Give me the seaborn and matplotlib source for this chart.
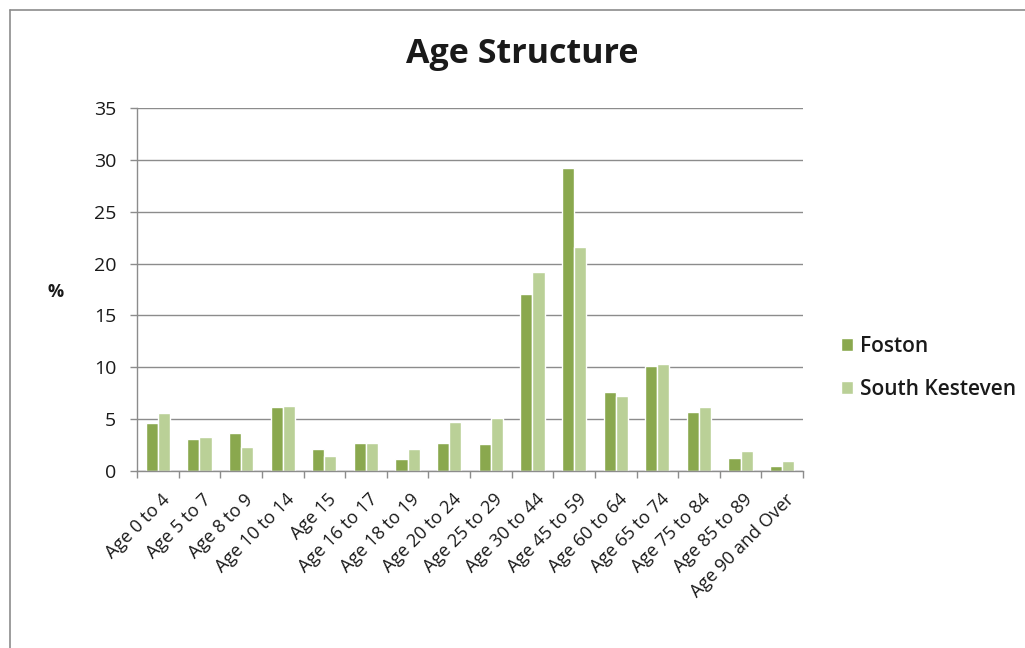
import numpy as np
import pandas as pd
import matplotlib
matplotlib.use('Agg')
import matplotlib.pyplot as plt
import matplotlib.patches as mpatches
import matplotlib.lines as mlines
import matplotlib.transforms as mtransforms
import seaborn as sns

age_groups = ['Age 0 to 4', 'Age 5 to 7', 'Age 8 to 9', 'Age 10 to 14', 'Age 15',
              'Age 16 to 17', 'Age 18 to 19', 'Age 20 to 24', 'Age 25 to 29',
              'Age 30 to 44', 'Age 45 to 59', 'Age 60 to 64', 'Age 65 to 74',
              'Age 75 to 84', 'Age 85 to 89', 'Age 90 and Over']
foston = [4.6, 3.1, 3.7, 6.15, 2.15, 2.7, 1.2, 2.7, 2.6, 17.05, 29.2, 7.65, 10.15, 5.7, 1.3, 0.5]
south_kesteven = [5.6, 3.25, 2.3, 6.25, 1.45, 2.7, 2.15, 4.75, 5.15, 19.15, 21.6, 7.25, 10.3, 6.15, 1.9, 0.95]
series = ['Foston', 'South Kesteven']
colors = ['#8aa84e', '#bad097']

df = pd.DataFrame({'age': age_groups * 2,
                   'pct': foston + south_kesteven,
                   'area': [series[0]] * len(age_groups) + [series[1]] * len(age_groups)})

sns.set_style('white')
plt.rcParams['font.family'] = ['Open Sans', 'DejaVu Sans']
txt_color = '#1a1a1a'
axis_color = '#8c8c8c'

W, H = 1025, 648
fig = plt.figure(figsize=(W / 100, H / 100), dpi=100)
ax = fig.add_axes([137 / W, 1 - 471 / H, (803 - 137) / W, (471 - 108) / H])

sns.barplot(data=df, x='age', y='pct', hue='area', palette=colors, width=0.58,
            gap=0, ax=ax, legend=False, saturation=1)

ax.set_ylim(0, 35)
ax.set_xlim(-0.5, len(age_groups) - 0.5)
ax.set_yticks(np.arange(0, 36, 5))
ax.yaxis.grid(True, color=axis_color, linewidth=1)
ax.set_axisbelow(True)
for s in ['top', 'right']:
    ax.spines[s].set_visible(False)
for s in ['left', 'bottom']:
    ax.spines[s].set_color(axis_color)
    ax.spines[s].set_linewidth(1)

# tick marks sit on the category boundaries
ax.set_xticks(np.arange(-0.5, len(age_groups), 1), minor=True)
ax.tick_params(axis='x', which='minor', length=5, color=axis_color, width=1, bottom=True)
ax.tick_params(axis='x', which='major', length=0, pad=14)
ax.tick_params(axis='y', length=5, color=axis_color, width=1, left=True,
               labelsize=14, pad=10, labelcolor=txt_color)
ax.set_xticks(range(len(age_groups)))
ax.set_xticklabels(age_groups, rotation=45, ha='right', va='top', rotation_mode='anchor',
                   fontsize=13, color=txt_color)
shift = mtransforms.ScaledTranslation(3 / 100, 0, fig.dpi_scale_trans)
for lab in ax.get_xticklabels():
    lab.set_transform(lab.get_transform() + shift)

ax.set_xlabel('')
ax.set_ylabel('')
fig.text(56 / W, 1 - 292 / H, '%', ha='center', va='center', fontsize=13,
         fontweight='bold', color=txt_color)

fig.text(522 / W, 1 - 54 / H, 'Age Structure', ha='center', va='center', fontsize=24.5,
         fontweight='bold', color=txt_color)

handles = [mpatches.Patch(facecolor=c, label=l) for c, l in zip(colors, series)]
fig.legend(handles=handles, loc='center left', bbox_to_anchor=(822 / W, 1 - 368 / H), frameon=False,
           prop={'weight': 'semibold', 'size': 15}, handlelength=0.6, handleheight=0.6,
           labelspacing=1.05, handletextpad=0.3, labelcolor=txt_color)

# chart border (only top and left edges fall inside the picture)
fig.add_artist(mlines.Line2D([10 / W, 1], [1 - 10 / H, 1 - 10 / H], transform=fig.transFigure,
                             color=axis_color, linewidth=1.2))
fig.add_artist(mlines.Line2D([10 / W, 10 / W], [0, 1 - 10 / H], transform=fig.transFigure,
                             color=axis_color, linewidth=1.2))

fig.savefig('out.png', dpi=100)
